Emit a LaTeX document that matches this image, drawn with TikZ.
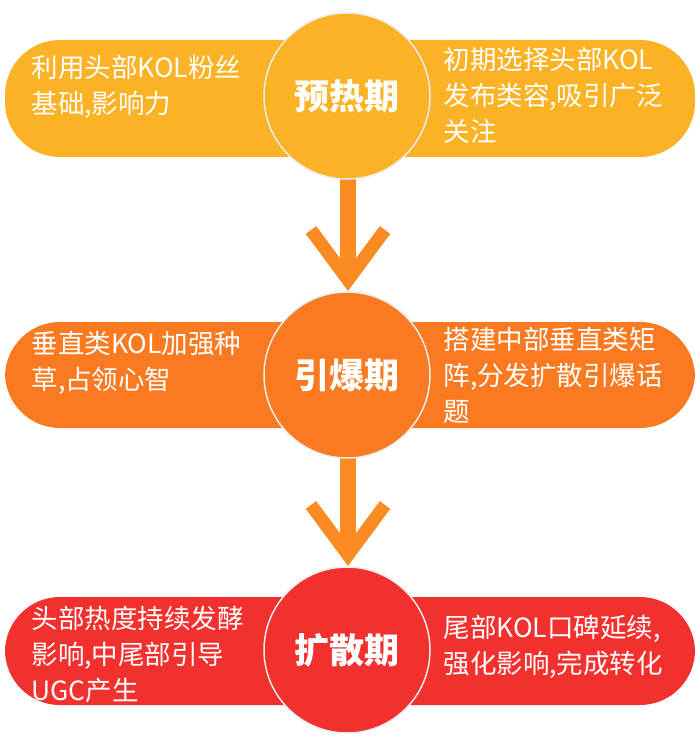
\documentclass[tikz,border=0pt]{standalone}
\usepackage{fontspec}
\setmainfont{Noto Sans CJK SC}
\usetikzlibrary{positioning}
\definecolor{warmc}{HTML}{FBB225}
\definecolor{hotc}{HTML}{FA7A21}
\definecolor{spreadc}{HTML}{F2302E}
\definecolor{arrowc}{HTML}{FA8A22}
\tikzset{
  bar/.style={fill=#1, draw=none, rounded corners=55pt},
  stage/.style={circle, fill=#1, draw=black!8, line width=1.5pt, minimum size=166pt, text=white, font=\fontsize{35}{40}\selectfont\bfseries},
  note/.style={text=white, align=left, anchor=north west, font=\fontsize{26.5}{36}\selectfont},
  chev/.style={draw=arrowc, line width=13pt},
}
\begin{document}
\begin{tikzpicture}[x=1pt, y=-1pt]
\useasboundingbox (0,0) rectangle (700,746);

% bars
\fill[bar=warmc] (5,40) rectangle (695,157);
\fill[bar=hotc] (5,322) rectangle (695,428);
\fill[bar=spreadc] (5,597) rectangle (695,705);

% arrows
\fill[arrowc] (340,170) rectangle (356,280);
\draw[chev] (311,230) -- (348,280) -- (385,230);
\fill[arrowc] (340,440) rectangle (356,555);
\draw[chev] (311,505) -- (348,555) -- (385,505);

% stages
\node[stage=warmc] (s1) at (347,96) {预热期};
\node[stage=hotc] (s2) at (347,375) {引爆期};
\node[stage=spreadc] (s3) at (347,650) {扩散期};

% notes
\node[note] (l1) at (28,52) {利用头部KOL粉丝\\基础,影响力};
\node[note] (r1) at (440,44) {初期选择头部KOL\\发布类容,吸引广泛\\关注};
\node[note] (l2) at (28,328) {垂直类KOL加强种\\草,占领心智};
\node[note] (r2) at (440,324) {搭建中部垂直类矩\\阵,分发扩散引爆话\\题};
\node[note] (l3) at (28,603) {头部热度持续发酵\\影响,中尾部引导\\UGC产生};
\node[note] (r3) at (440,612) {尾部KOL口碑延续,\\强化影响,完成转化};
\end{tikzpicture}
\end{document}
